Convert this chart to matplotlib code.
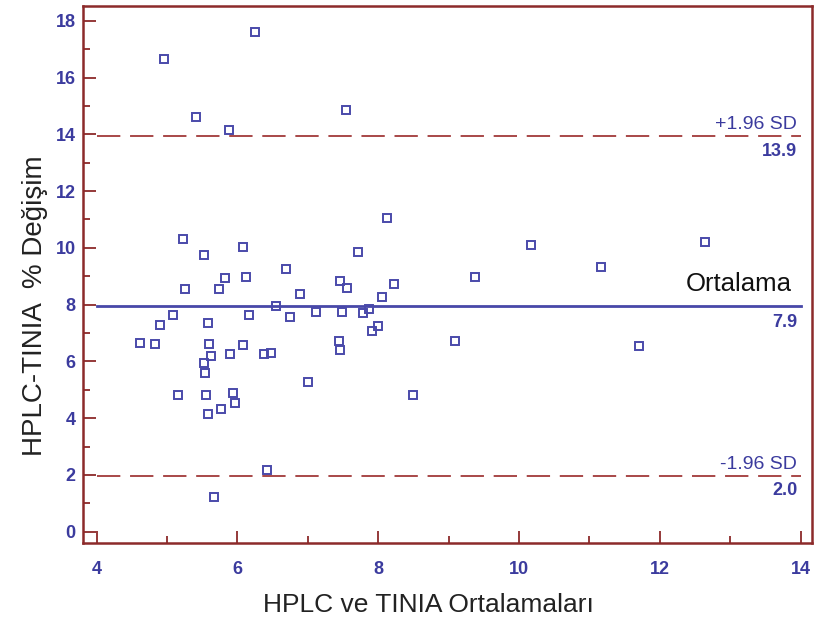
import numpy as np
import matplotlib.pyplot as plt

plt.rcParams['font.family'] = ['Liberation Sans', 'DejaVu Sans']

# Bland-Altman points: mean of methods vs % difference
ort = [4.96, 6.25, 5.41, 5.88, 7.54, 8.13, 5.23, 5.52, 6.08, 7.71,
       6.69, 6.12, 5.82, 5.26, 5.74, 6.89, 7.45, 7.56, 8.23, 8.05,
       6.55, 5.08, 4.90, 6.16, 6.74, 7.11, 7.49, 7.79, 7.87, 8.00,
       7.91, 5.58, 4.62, 4.83, 5.60, 5.63, 5.52, 5.54, 6.08, 5.90,
       6.37, 6.48, 7.44, 7.46, 9.09, 11.70, 5.16, 5.56, 5.94, 5.96,
       5.77, 5.58, 7.00, 8.50, 6.42, 5.66, 9.37, 10.17, 11.16, 12.64]
fark = [16.66, 17.60, 14.60, 14.15, 14.85, 11.04, 10.30, 9.76, 10.02, 9.85,
        9.26, 8.97, 8.93, 8.54, 8.54, 8.38, 8.84, 8.58, 8.72, 8.27,
        7.94, 7.63, 7.29, 7.63, 7.55, 7.74, 7.74, 7.69, 7.84, 7.26,
        7.06, 7.34, 6.65, 6.60, 6.61, 6.20, 5.95, 5.58, 6.57, 6.27,
        6.26, 6.31, 6.72, 6.41, 6.71, 6.55, 4.83, 4.83, 4.89, 4.53,
        4.33, 4.15, 5.26, 4.83, 2.17, 1.23, 8.96, 10.11, 9.32, 10.20]

ortalama = 7.945
ust_sinir = 13.93
alt_sinir = 1.96

koyu_kirmizi = '#8c2a2a'
mavi = '#3b3b9e'

fig = plt.figure(figsize=(8.14, 6.23), dpi=100)
ax = fig.add_axes([0.1023, 0.1279, 0.8952, 0.8625])

ax.plot(ort, fark, 's', markersize=6.3, markerfacecolor='none',
        markeredgecolor='#4a4aaa', markeredgewidth=1.4, zorder=3)

ax.plot([4, 14], [ortalama, ortalama], color='#4848a8', lw=2.0, zorder=2)
for v in (ust_sinir, alt_sinir):
    ax.plot([4, 14], [v, v], color='#a84848', lw=1.4,
            dashes=(12, 5), zorder=2)

ax.text(13.95, ust_sinir + 0.12, '+1.96 SD', color=mavi, fontsize=14,
        ha='right', va='bottom')
ax.text(13.95, ust_sinir - 0.22, '%.1f' % ust_sinir, color=mavi, fontsize=13,
        ha='right', va='top', fontweight='bold')
ax.text(13.95, alt_sinir + 0.12, '-1.96 SD', color=mavi, fontsize=14,
        ha='right', va='bottom')
ax.text(13.95, alt_sinir - 0.22, '%.1f' % alt_sinir, color=mavi, fontsize=13,
        ha='right', va='top', fontweight='bold')
ax.text(13.87, ortalama + 0.35, 'Ortalama', color='#111111', fontsize=18.5,
        ha='right', va='bottom')
ax.text(13.95, ortalama - 0.27, '%.1f' % ortalama, color=mavi, fontsize=13,
        ha='right', va='top', fontweight='bold')

ax.set_xlim(3.81, 14.16)
ax.set_ylim(-0.41, 18.52)
ax.set_xticks(np.arange(4, 15, 2))
ax.set_xticks(np.arange(5, 14, 2), minor=True)
ax.set_yticks(np.arange(0, 19, 2))
ax.set_yticks(np.arange(1, 18, 2), minor=True)

for s in ('top', 'right', 'bottom', 'left'):
    ax.spines[s].set_color(koyu_kirmizi)
    ax.spines[s].set_linewidth(1.8)

ax.tick_params(which='both', direction='in', color=koyu_kirmizi, width=1.3,
               labelcolor=mavi, labelsize=13)
ax.tick_params(which='major', length=9)
ax.tick_params(which='minor', length=5)
ax.tick_params(axis='x', which='major', pad=13)
ax.tick_params(axis='y', which='major', pad=5.5)
for lab in ax.get_xticklabels() + ax.get_yticklabels():
    lab.set_fontweight('bold')

ax.set_xlabel('HPLC ve TINIA Ortalamaları', fontsize=19, color='#222222',
              va='center')
ax.set_ylabel('HPLC-TINIA  % Değişim', fontsize=20, color='#222222',
              va='center')
ax.xaxis.set_label_coords(0.474, -0.115)
ax.yaxis.set_label_coords(-0.066, 0.443)

fig.savefig('out.png', dpi=100)
